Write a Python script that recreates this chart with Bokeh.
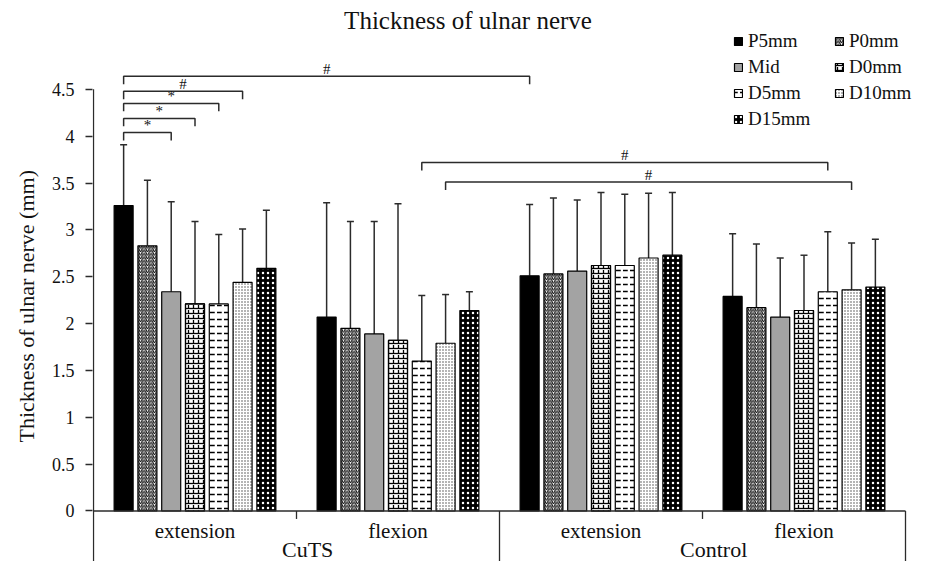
from bokeh.plotting import figure
from bokeh.models import (Range1d, FixedTicker, NumeralTickFormatter, Whisker, TeeHead,
                          ColumnDataSource, Legend, LegendItem, Title)
from bokeh.core.properties import value
from bokeh.embed import file_html
from bokeh.resources import INLINE

# ---------------- data ----------------
title_text = "Thickness of ulnar nerve"
y_title = "Thickness of ulnar nerve (mm)"
conditions = ["extension", "flexion", "extension", "flexion"]
cohorts = ["CuTS", "Control"]
series = ["P5mm", "P0mm", "Mid", "D0mm", "D5mm", "D10mm", "D15mm"]
y_ticks = [0, 0.5, 1, 1.5, 2, 2.5, 3, 3.5, 4, 4.5]

# means for groups: CuTS-extension, CuTS-flexion, Control-extension, Control-flexion
p5_mean = [3.26, 2.07, 2.51, 2.29]
p0_mean = [2.83, 1.95, 2.53, 2.17]
mid_mean = [2.34, 1.89, 2.56, 2.07]
d0_mean = [2.21, 1.82, 2.62, 2.14]
d5_mean = [2.21, 1.60, 2.62, 2.34]
d10_mean = [2.44, 1.79, 2.70, 2.36]
d15_mean = [2.59, 2.14, 2.73, 2.39]

# standard deviations (upper error bars)
p5_sd = [0.65, 1.22, 0.76, 0.67]
p0_sd = [0.70, 1.14, 0.81, 0.68]
mid_sd = [0.96, 1.20, 0.76, 0.63]
d0_sd = [0.88, 1.46, 0.78, 0.59]
d5_sd = [0.74, 0.70, 0.76, 0.64]
d10_sd = [0.57, 0.52, 0.69, 0.50]
d15_sd = [0.62, 0.20, 0.67, 0.51]

means = [p5_mean, p0_mean, mid_mean, d0_mean, d5_mean, d10_mean, d15_mean]
sds = [p5_sd, p0_sd, mid_sd, d0_sd, d5_sd, d10_sd, d15_sd]

# significance brackets: (group, series) -> (group, series)
sig_from_group = [0, 0, 0, 0, 0, 1, 1]
sig_from_series = [0, 0, 0, 0, 0, 4, 5]
sig_to_group = [0, 0, 0, 0, 2, 3, 3]
sig_to_series = [2, 3, 4, 5, 0, 4, 5]
sig_level = [4.04, 4.19, 4.35, 4.48, 4.64, 3.72, 3.51]
sig_mark = ["*", "*", "*", "#", "#", "#", "#"]

# ---------------- layout ----------------
PITCH = 0.1172
BAR_W = 0.0936
N_GROUPS = len(conditions)
Y_BOTTOM = -0.5390
Y_TOP = 5.4482
X_START = -1.0 / 203
X_END = X_START + 823 / 203
FONT_NAME = '"Liberation Serif"'
FONT = value(FONT_NAME)
INK = "#111111"
LINE = "#2b2b2b"


def bar_x(g, s):
    return g + 0.5 + (s - (len(series) - 1) / 2) * PITCH


p = figure(width=915, height=561, output_backend="svg", toolbar_location=None,
           x_range=Range1d(X_START, X_END), y_range=Range1d(Y_BOTTOM, Y_TOP),
           x_axis_location=None, y_axis_location="left",
           min_border_left=92, min_border_right=0, min_border_top=0, min_border_bottom=0,
           outline_line_color=None, background_fill_color="white", border_fill_color="white")
for g in p.grid:
    g.visible = False

ax = p.yaxis[0]
ax.ticker = FixedTicker(ticks=y_ticks)
ax.formatter = NumeralTickFormatter(format="0.[0]")
ax.axis_line_color = None
ax.major_tick_in = 0
ax.major_tick_out = 7
ax.major_tick_line_color = LINE
ax.major_tick_line_width = 1.3
ax.minor_tick_line_color = None
ax.major_label_standoff = 11
ax.major_label_text_font = FONT_NAME
ax.major_label_text_font_size = "18px"
ax.major_label_text_color = INK

styles = [
    dict(fill_color="black"),
    dict(fill_color="white", hatch_pattern="right_diagonal_line", hatch_color="black",
         hatch_scale=3.5, hatch_weight=1.0),
    dict(fill_color="#a3a3a3"),
    dict(fill_color="white", hatch_pattern="horizontal_line", hatch_color="black",
         hatch_scale=5, hatch_weight=1.3),
    dict(fill_color="white", hatch_pattern="horizontal_dash", hatch_color="black",
         hatch_scale=7, hatch_weight=1.5),
    dict(fill_color="white", hatch_pattern="dot", hatch_color="#444444",
         hatch_scale=3, hatch_weight=1.0),
    dict(fill_color="black", hatch_pattern="dot", hatch_color="white",
         hatch_scale=5, hatch_weight=2.5),
]

legend_items = []
for i, name in enumerate(series):
    xs = [bar_x(g, i) for g in range(N_GROUPS)]
    src = ColumnDataSource(dict(x=xs, top=means[i],
                                upper=[m + s for m, s in zip(means[i], sds[i])]))
    r = p.vbar(x="x", top="top", bottom=0, width=BAR_W, source=src,
               line_color="black", line_width=1.2, **styles[i])
    rs = [r]
    if name == "D0mm":
        r2 = p.vbar(x="x", top="top", bottom=0, width=BAR_W, source=src,
                    fill_color=None, line_color="black", line_width=1.2,
                    hatch_pattern="vertical_dash", hatch_color="black",
                    hatch_scale=5, hatch_weight=1.3)
        rs.append(r2)
    legend_items.append(LegendItem(label=name, renderers=rs))
    p.add_layout(Whisker(source=src, base="x", lower="top", upper="upper", dimension="height",
                         line_color=LINE, line_width=1.5,
                         upper_head=TeeHead(size=7, line_color=LINE, line_width=1.5),
                         lower_head=None))

# category axis drawn as a table
p.segment(x0=[0], y0=[0], x1=[N_GROUPS], y1=[0], line_color=LINE, line_width=1.3)
p.segment(x0=[0], y0=[Y_BOTTOM], x1=[0], y1=[y_ticks[-1]], line_color=LINE, line_width=1.3)
long_x = [k for k in range(1, N_GROUPS + 1) if k % 2 == 0]
short_x = [k for k in range(1, N_GROUPS + 1) if k % 2 == 1]
p.segment(x0=long_x, y0=[0] * len(long_x), x1=long_x, y1=[Y_BOTTOM] * len(long_x),
          line_color=LINE, line_width=1.3)
p.segment(x0=short_x, y0=[0] * len(short_x), x1=short_x, y1=[-0.085] * len(short_x),
          line_color=LINE, line_width=1.3)

p.text(x=[g + 0.5 for g in range(N_GROUPS)], y=[-0.2188] * N_GROUPS, text=conditions,
       text_align="center", text_baseline="middle", text_font=FONT,
       text_font_size="21px", text_color=INK)
p.text(x=[2 * c + 1.055 for c in range(len(cohorts))], y=[-0.4109] * len(cohorts), text=cohorts,
       text_align="center", text_baseline="middle", text_font=FONT,
       text_font_size="22px", text_color=INK)

# chart title
p.text(x=[1.845], y=[5.240], text=[title_text], text_align="center",
       text_baseline="middle", text_font=FONT, text_font_size="25px", text_color=INK)

# y-axis title
p.add_layout(Title(text=y_title, align="left", offset=119, standoff=19,
                   text_font=FONT_NAME, text_font_size="22px",
                   text_font_style="normal", text_color=INK), "left")

# significance brackets
LEG = 0.085
bx, by, mx = [], [], []
for ga, sa, gb, sb, lv in zip(sig_from_group, sig_from_series, sig_to_group, sig_to_series, sig_level):
    xa, xb = bar_x(ga, sa), bar_x(gb, sb)
    bx.append([xa, xa, xb, xb])
    by.append([lv - LEG, lv, lv, lv - LEG])
    mx.append((xa + xb) / 2)
p.multi_line(xs=bx, ys=by, line_color=LINE, line_width=1.5)
p.text(x=mx, y=sig_level, text=sig_mark, y_offset=-7, text_align="center",
       text_baseline="middle", text_font=FONT, text_font_size="15px", text_color=INK)

legend = Legend(items=legend_items, orientation="horizontal", ncols=2, location=(641, 431),
                glyph_width=10, glyph_height=10, label_height=20, label_width=82,
                label_standoff=5, spacing=4, padding=0, margin=0,
                border_line_color=None, background_fill_alpha=0,
                label_text_font=FONT_NAME, label_text_font_size="19px",
                label_text_color=INK)
p.add_layout(legend)

open("out.html", "w").write(file_html(p, INLINE))
